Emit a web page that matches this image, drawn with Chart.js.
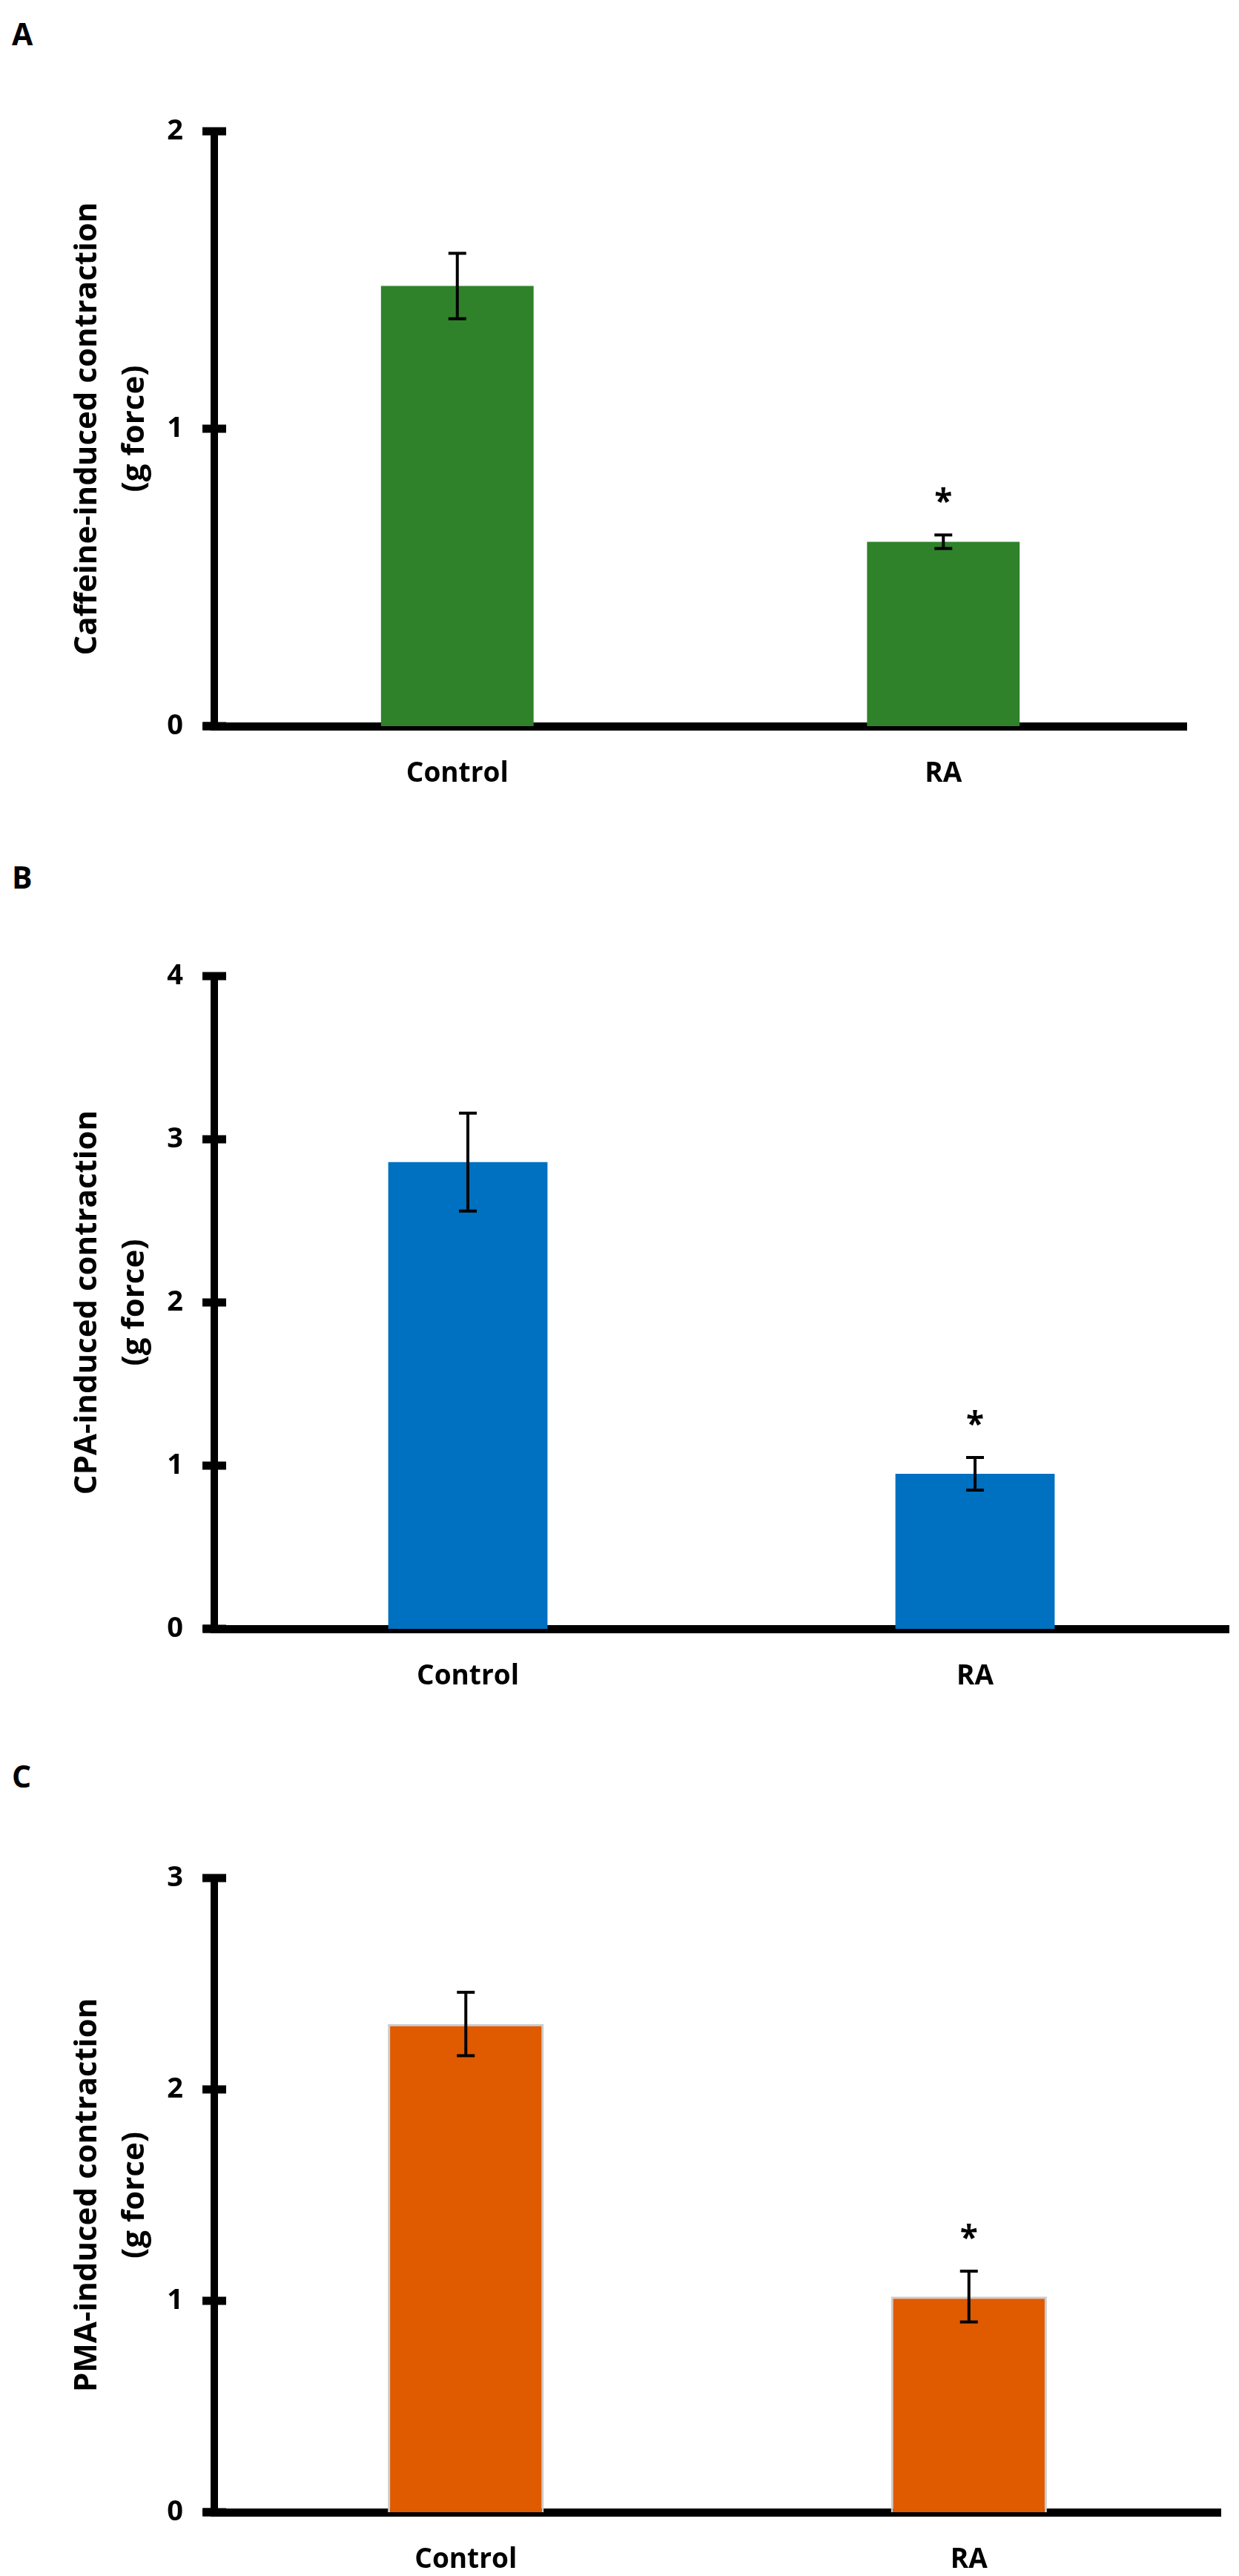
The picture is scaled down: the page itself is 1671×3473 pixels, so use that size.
<!DOCTYPE html>
<html>
<head>
<meta charset="utf-8">
<title>Contraction panels</title>
<script src="https://cdn.jsdelivr.net/npm/chart.js@4.4.1/dist/chart.umd.min.js"></script>
<style>
  html, body { margin: 0; background: #fff; }
  body { position: relative; width: 1671px; height: 3473px; overflow: hidden; }
  .panel { position: absolute; left: 0; width: 1671px; }
  .panel canvas { display: block; }
  .tag { position: absolute; left: 16px; font: bold 41px/1 "Open Sans", sans-serif; color: #000; }
</style>
</head>
<body>

<div class="tag" style="top:25px">A</div>
<div class="tag" style="top:1162px">B</div>
<div class="tag" style="top:2374px">C</div>

<div class="panel" style="top:0;height:1150px"><canvas id="chartA" width="1671" height="1150"></canvas></div>
<div class="panel" style="top:1150px;height:1200px"><canvas id="chartB" width="1671" height="1200"></canvas></div>
<div class="panel" style="top:2350px;height:1123px"><canvas id="chartC" width="1671" height="1123"></canvas></div>

<script>
// --- DATA ---
const categories = ['Control', 'RA'];
const starred = [false, true];

const caffeineMean = [1.48, 0.62];
const caffeineErr  = [0.11, 0.023];
const caffeineMax  = 2;

const cpaMean = [2.86, 0.95];
const cpaErr  = [0.30, 0.10];
const cpaMax  = 4;

const pmaMean = [2.31, 1.02];
const pmaErr  = [0.15, 0.12];
const pmaMax  = 3;

// --- DRAWING HELPERS ---
const FONT = '"Open Sans", sans-serif';

// crossing tick marks on the y axis, error bars and the asterisks
const extrasPlugin = {
  id: 'extras',
  afterDraw(chart, args, opts) {
    const ctx = chart.ctx;
    const y = chart.scales.y;
    const axisX = chart.chartArea.left;
    ctx.save();
    ctx.fillStyle = '#000';

    // ticks: 11px thick, crossing the axis line
    y.ticks.forEach(t => {
      const py = y.getPixelForValue(t.value);
      ctx.fillRect(axisX - 16, py - 5.5, 32, 11);
    });

    // stub of the x axis poking out left of the y axis
    ctx.fillRect(axisX - 15, chart.chartArea.bottom - 5.5, 15, 11);

    // error bars
    const meta = chart.getDatasetMeta(0);
    ctx.strokeStyle = '#000';
    ctx.lineWidth = 4;
    meta.data.forEach((bar, i) => {
      const m = opts.mean[i], e = opts.err[i];
      const top = y.getPixelForValue(m + e);
      const bot = y.getPixelForValue(m - e);
      ctx.beginPath();
      ctx.moveTo(bar.x, top); ctx.lineTo(bar.x, bot);
      ctx.moveTo(bar.x - 12, top); ctx.lineTo(bar.x + 12, top);
      ctx.moveTo(bar.x - 12, bot); ctx.lineTo(bar.x + 12, bot);
      ctx.stroke();

      if (starred[i]) {
        ctx.font = 'bold 44px ' + FONT;
        ctx.textAlign = 'center';
        ctx.textBaseline = 'alphabetic';
        ctx.fillText('*', bar.x, top - 57 + 27);
      }
    });
    ctx.restore();
  }
};

function makeChart(id, o) {
  return new Chart(document.getElementById(id), {
    type: 'bar',
    data: {
      labels: categories,
      datasets: [{
        data: o.mean,
        backgroundColor: o.color,
        borderColor: o.edge || o.color,
        borderWidth: o.edgeWidth || 0,
        barPercentage: o.barPct,
        categoryPercentage: 1
      }]
    },
    options: {
      responsive: false,
      animation: false,
      devicePixelRatio: 1,
      layout: { padding: { left: 0, top: o.top, right: 1671 - o.right, bottom: o.bottomPad } },
      plugins: {
        legend: { display: false },
        tooltip: { enabled: false },
        extras: { mean: o.mean, err: o.err }
      },
      scales: {
        x: {
          z: 1,
          grid: { display: false, drawTicks: false },
          border: { display: true, color: '#000', width: 11 },
          ticks: { color: '#000', padding: 42, font: { family: FONT, weight: 'bold', size: 37 } },
          afterFit: s => { s.height = 100; }
        },
        y: {
          z: 1,
          min: 0,
          max: o.max,
          grid: { display: false, drawTicks: false },
          border: { display: true, color: '#000', width: 10 },
          ticks: { stepSize: 1, color: '#000', padding: 42, font: { family: FONT, weight: 'bold', size: 38 } },
          title: {
            display: true,
            text: [o.title, '(g force)'],
            color: '#000',
            padding: { top: 86, bottom: 0 },
            font: { family: FONT, weight: 'bold', size: 42, lineHeight: 1.52 }
          },
          afterFit: s => { s.width = 289; }
        }
      }
    },
    plugins: [extrasPlugin]
  });
}

makeChart('chartA', {
  mean: caffeineMean, err: caffeineErr, max: caffeineMax,
  title: 'Caffeine-induced contraction',
  color: '#2F822A', barPct: 0.314,
  top: 177, right: 1600, bottomPad: 1150 - 979 - 100
});

makeChart('chartB', {
  mean: cpaMean, err: cpaErr, max: cpaMax,
  title: 'CPA-induced contraction',
  color: '#0070C0', barPct: 0.314,
  top: 166, right: 1657, bottomPad: 1200 - 1046 - 100
});

makeChart('chartC', {
  mean: pmaMean, err: pmaErr, max: pmaMax,
  title: 'PMA-induced contraction',
  color: '#E05A00', edge: '#CDCDCD', edgeWidth: 3, barPct: 0.31,
  top: 182, right: 1646, bottomPad: 1123 - 1037 - 100
});
</script>
</body>
</html>
